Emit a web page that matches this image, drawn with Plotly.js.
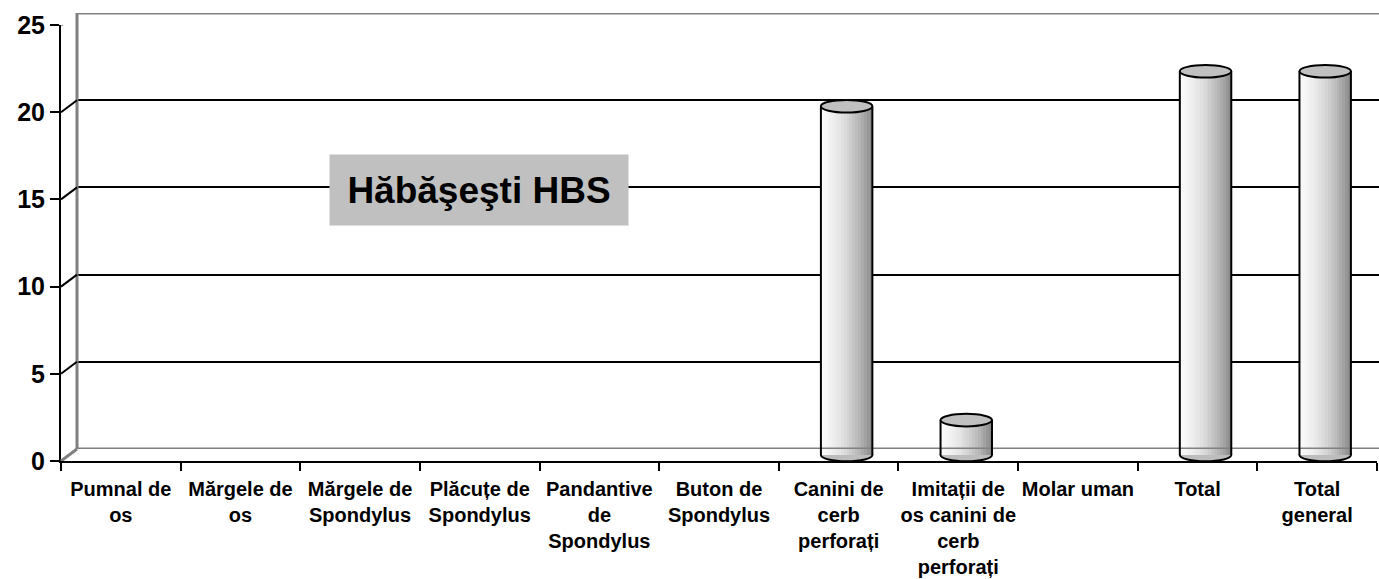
<!DOCTYPE html>
<html>
<head>
<meta charset="utf-8">
<script src="https://cdn.plot.ly/plotly-3.0.1.min.js"></script>
<style>html,body{margin:0;padding:0;background:#fff;}#chart{width:1379px;height:579px;}</style>
</head>
<body>
<div id="chart"></div>
<script>
const categories = [
  "Pumnal de<br>os",
  "Mărgele de<br>os",
  "Mărgele de<br>Spondylus",
  "Plăcuțe de<br>Spondylus",
  "Pandantive<br>de<br>Spondylus",
  "Buton de<br>Spondylus",
  "Canini de<br>cerb<br>perforați",
  "Imitații de<br>os canini de<br>cerb<br>perforați",
  "Molar uman",
  "Total",
  "Total<br>general"
];
const values = [0, 0, 0, 0, 0, 0, 20, 2, 0, 22, 22];
const yTicks = [0, 5, 10, 15, 20, 25];
const chartTitle = "Hăbăşeşti HBS";

// ---- geometry (pixels) ----
const FONT = "Liberation Sans, Arial, sans-serif";
const mL = 61, mR = 0, mT = 13, mB = 100;
const pw = 1379 - mL - mR;          // paper width
const ph = 579 - mT - mB;           // paper height
const frontBottom = 461, frontTop = 25;   // y pixels for 0 and 25 on the front axis
const pxPerUnit = (frontBottom - frontTop) / 25;
const frontW = 1316;                 // front x axis length
const cw = frontW / categories.length;
const dX = 16, dY = 12;              // depth offset of back wall
const paperBottom = mT + ph;
const n = categories.length;
const idx = categories.map((_, i) => i);

function ydom(bottomPx, topPx) { return [(paperBottom - bottomPx) / ph, Math.min(1, (paperBottom - topPx) / ph)]; }

// middle depth (bars)
const midLow = -0.6;
const midZeroPx = frontBottom - dY / 2;
const midBottomPx = midZeroPx - midLow * pxPerUnit;
const midTopPx = midZeroPx - 25 * pxPerUnit;

const W = 0.43, N = 18;
function shade(k) {
  const t = k / (N - 1);
  // light on the left, darker on the right
  const v = Math.round(250 - 40 * t - 70 * Math.pow(t, 2.2));
  return `rgb(${v},${v},${v})`;
}

const traces = [];
for (let k = 0; k < N; k++) {
  traces.push({
    type: "bar", x: idx, y: values, xaxis: "x3", yaxis: "y3",
    width: W / N + 0.003, offset: -W / 2 + k * W / N,
    marker: { color: shade(k), line: { width: 0 } },
    hoverinfo: "skip", showlegend: false
  });
}
// helper traces so every axis pair is laid out
traces.push({ type: "scatter", x: [0], y: [0], xaxis: "x", yaxis: "y", mode: "markers", marker: { opacity: 0 }, hoverinfo: "skip", showlegend: false });
traces.push({ type: "scatter", x: [0], y: [0], xaxis: "x2", yaxis: "y2", mode: "markers", marker: { opacity: 0 }, hoverinfo: "skip", showlegend: false });
traces.push({ type: "scatter", x: [0], y: [0], xaxis: "x4", yaxis: "y", mode: "markers", marker: { opacity: 0 }, hoverinfo: "skip", showlegend: false });

const grey = "#808080";
const shapes = [
  { type: "line", xref: "x2 domain", yref: "y2", x0: 0, x1: 1, y0: 25, y1: 25, line: { color: grey, width: 3 } },
  { type: "line", xref: "x2 domain", yref: "y2", x0: 0, x1: 1, y0: 0, y1: 0, line: { color: grey, width: 3 } },
  { type: "line", xref: "x2 domain", yref: "y2", x0: 0, x1: 0, y0: 0, y1: 25, line: { color: grey, width: 3 } }
];
yTicks.forEach(v => {
  const edge = (v === 0 || v === 25);
  shapes.push({ type: "line", xref: "paper", yref: "y", x0: 0, x1: dX / pw, y0: v, y1: v + dY / pxPerUnit,
    line: { color: edge ? grey : "#000", width: edge ? 3 : 2 } });
});
const ry = 6.3 / pxPerUnit;
values.forEach((v, i) => {
  if (v <= 0) return;
  shapes.push({ type: "circle", xref: "x3", yref: "y3", layer: "below",
    x0: i - W / 2, x1: i + W / 2, y0: -ry, y1: ry, fillcolor: "#bdbdbd", line: { color: "#000", width: 2 } });
  shapes.push({ type: "line", xref: "x3", yref: "y3", x0: i - W / 2, x1: i - W / 2, y0: 0, y1: v, line: { color: "#000", width: 2 } });
  shapes.push({ type: "line", xref: "x3", yref: "y3", x0: i + W / 2, x1: i + W / 2, y0: 0, y1: v, line: { color: "#000", width: 2 } });
  shapes.push({ type: "circle", xref: "x3", yref: "y3",
    x0: i - W / 2, x1: i + W / 2, y0: v - ry, y1: v + ry, fillcolor: "#c0c0c0", line: { color: "#000", width: 2 } });
});

const boundaries = [];
for (let i = 0; i <= n; i++) boundaries.push(i - 0.5);

const layout = {
  width: 1379, height: 579,
  margin: { l: mL, r: mR, t: mT, b: mB, pad: 0 },
  paper_bgcolor: "#fff", plot_bgcolor: "rgba(0,0,0,0)",
  barmode: "overlay", bargap: 0, showlegend: false,
  font: { family: FONT, color: "#000" },
  xaxis: {
    domain: [0, frontW / pw], range: [-0.5, n - 0.5], anchor: "y",
    tickvals: boundaries, ticktext: boundaries.map(() => ""),
    ticks: "outside", ticklen: 8, tickwidth: 2, tickcolor: "#000",
    showline: true, linecolor: "#000", linewidth: 2, showgrid: false, zeroline: false, fixedrange: true
  },
  xaxis4: {
    overlaying: "x", matches: "x", anchor: "y", side: "bottom",
    range: [-0.5, n - 0.5], tickvals: idx, ticktext: categories,
    ticks: "outside", ticklen: 10, tickcolor: "rgba(0,0,0,0)",
    tickfont: { family: FONT, size: 20, weight: "bold", color: "#000" },
    showline: false, showgrid: false, zeroline: false, fixedrange: true
  },
  yaxis: {
    domain: ydom(frontBottom, frontTop), range: [0, 25], anchor: "x",
    tickvals: yTicks, ticks: "outside", ticklen: 9, tickwidth: 2, tickcolor: "#000",
    tickfont: { family: FONT, size: 25, weight: "bold", color: "#000" },
    showline: true, linecolor: "#000", linewidth: 2, showgrid: false, zeroline: false, fixedrange: true
  },
  xaxis2: {
    domain: [dX / pw, 1], range: [-0.5, -0.5 + (pw - dX) / cw], anchor: "y2",
    visible: false, fixedrange: true
  },
  yaxis2: {
    domain: ydom(frontBottom - dY, frontTop - dY), range: [0, 25], anchor: "x2",
    tickvals: [5, 10, 15, 20], showticklabels: false, ticks: "",
    showgrid: true, gridcolor: "#000", gridwidth: 2, zeroline: false, showline: false, fixedrange: true
  },
  xaxis3: {
    domain: [(dX / 2) / pw, 1], range: [-0.5, -0.5 + (pw - dX / 2) / cw], anchor: "y3",
    visible: false, fixedrange: true
  },
  yaxis3: {
    domain: ydom(midBottomPx, midTopPx), range: [midLow, 25], anchor: "x3",
    visible: false, fixedrange: true
  },
  shapes: shapes,
  annotations: [{
    text: chartTitle, xref: "paper", yref: "paper",
    x: (479 - mL) / pw, y: (paperBottom - 190) / ph, xanchor: "center", yanchor: "middle",
    showarrow: false, bgcolor: "#c0c0c0", borderpad: 0, width: 298, height: 70,
    font: { family: FONT, size: 37, weight: "bold", color: "#000" }
  }]
};

Plotly.newPlot("chart", traces, layout, { displayModeBar: false, staticPlot: true });
</script>
</body>
</html>
